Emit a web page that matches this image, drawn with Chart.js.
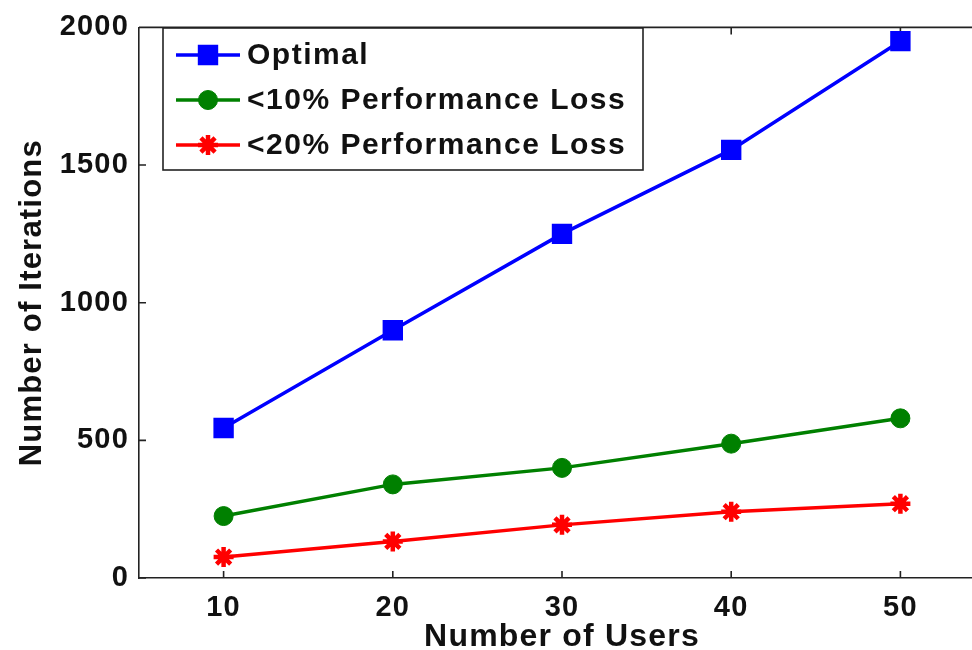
<!DOCTYPE html>
<html>
<head>
<meta charset="utf-8">
<script src="https://cdn.jsdelivr.net/npm/chart.js@4.4.1/dist/chart.umd.min.js"></script>
<style>
  html, body { margin: 0; padding: 0; background: #fff; }
  #wrap { width: 972px; height: 650px; overflow: hidden; position: relative; }
  canvas { display: block; }
</style>
</head>
<body>
<div id="wrap"><canvas id="chart" width="1000" height="656"></canvas></div>
<script>
// values
const users = [10, 20, 30, 40, 50];
const optimal = [545, 900, 1250, 1555, 1950];
const loss10 = [225, 340, 400, 488, 580];
const loss20 = [76, 133, 193, 241, 270];
const xTicks = [10, 20, 30, 40, 50];
const yTicks = [0, 500, 1000, 1500, 2000];

const FONT = "'Liberation Sans', Arial, sans-serif";

function pts(ys) {
    return users.map((u, i) => ({ x: u, y: ys[i] }));
}

// box around the plot plus the inward tick marks, matlab style
const framePlugin = {
    id: 'frame',
    beforeDraw(chart) {
        chart.ctx.letterSpacing = '1.2px';
    },
    beforeDatasetsDraw(chart) {
        const { ctx, chartArea: a, scales } = chart;
        ctx.save();
        ctx.letterSpacing = '0px';
        ctx.strokeStyle = '#222';
        ctx.lineWidth = 1.6;
        ctx.beginPath();
        ctx.moveTo(a.left, a.top);
        ctx.lineTo(a.right, a.top);
        ctx.lineTo(a.right, a.bottom);
        const len = 7;
        xTicks.forEach(v => {
            const x = scales.x.getPixelForValue(v);
            ctx.moveTo(x, a.bottom);
            ctx.lineTo(x, a.bottom - len);
            ctx.moveTo(x, a.top);
            ctx.lineTo(x, a.top + len);
        });
        yTicks.forEach(v => {
            const y = scales.y.getPixelForValue(v);
            ctx.moveTo(a.left, y);
            ctx.lineTo(a.left + len, y);
            ctx.moveTo(a.right, y);
            ctx.lineTo(a.right - len, y);
        });
        ctx.stroke();
        ctx.restore();
    },
    afterDraw(chart) {
        // legend box in the top left corner
        const { ctx } = chart;
        const bx = 163, by = 28, bw = 480, bh = 142;
        ctx.save();
        ctx.fillStyle = '#fff';
        ctx.fillRect(bx, by, bw, bh);
        ctx.strokeStyle = '#222';
        ctx.lineWidth = 1.6;
        ctx.strokeRect(bx, by, bw, bh);
        ctx.font = `bold 30px ${FONT}`;
        ctx.letterSpacing = '1.5px';
        ctx.textBaseline = 'middle';
        ctx.textAlign = 'left';
        chart.data.datasets.forEach((ds, i) => {
            const y = by + 27 + i * 45;
            ctx.strokeStyle = ds.borderColor;
            ctx.lineWidth = ds.borderWidth;
            ctx.beginPath();
            ctx.moveTo(176, y);
            ctx.lineTo(240, y);
            ctx.stroke();
            ctx.fillStyle = ds.backgroundColor;
            ctx.lineWidth = ds.pointBorderWidth;
            Chart.helpers.drawPoint(ctx, {
                pointStyle: ds.pointStyle,
                radius: ds.pointRadius,
                borderWidth: ds.pointBorderWidth
            }, 208, y);
            ctx.fillStyle = '#111';
            ctx.fillText(ds.label, 247, y + 1);
        });
        ctx.restore();
    }
};

new Chart(document.getElementById('chart'), {
    type: 'line',
    data: {
        datasets: [{
            label: 'Optimal',
            data: pts(optimal),
            borderColor: '#0000ff',
            backgroundColor: '#0000ff',
            borderWidth: 3.5,
            pointStyle: 'rect',
            pointRadius: 13,
            pointBorderWidth: 2
        }, {
            label: '<10% Performance Loss',
            data: pts(loss10),
            borderColor: '#008000',
            backgroundColor: '#008000',
            borderWidth: 3.5,
            pointStyle: 'circle',
            pointRadius: 9.5,
            pointBorderWidth: 1
        }, {
            label: '<20% Performance Loss',
            data: pts(loss20),
            borderColor: '#ff0000',
            backgroundColor: '#ff0000',
            borderWidth: 3.5,
            pointStyle: 'star',
            pointRadius: 10,
            pointBorderWidth: 4.5
        }]
    },
    options: {
        responsive: false,
        animation: false,
        layout: { padding: { top: 22, right: 14, left: 0, bottom: 0 } },
        plugins: {
            legend: { display: false },
            tooltip: { enabled: false }
        },
        elements: { line: { tension: 0 } },
        scales: {
            x: {
                type: 'linear',
                min: 5,
                max: 55,
                afterBuildTicks(scale) {
                    scale.ticks = xTicks.map(v => ({ value: v }));
                },
                afterFit(scale) { scale.height = 78; },
                grid: { display: false, drawTicks: false },
                border: { display: true, color: '#222', width: 1.6 },
                ticks: {
                    color: '#111',
                    padding: 13,
                    callback: v => String(v),
                    font: { family: FONT, size: 29, weight: 'bold' }
                },
                title: {
                    display: true,
                    text: 'Number of Users',
                    color: '#111',
                    padding: { top: 0, bottom: 0 },
                    font: { family: FONT, size: 32, weight: 'bold' }
                }
            },
            y: {
                min: 0,
                max: 2000,
                afterBuildTicks(scale) {
                    scale.ticks = yTicks.map(v => ({ value: v }));
                },
                afterFit(scale) { scale.width = 139; },
                grid: { display: false, drawTicks: false },
                border: { display: true, color: '#222', width: 1.6 },
                ticks: {
                    color: '#111',
                    padding: 10,
                    callback: v => String(v),
                    font: { family: FONT, size: 29, weight: 'bold' }
                },
                title: {
                    display: true,
                    text: 'Number of Iterations',
                    color: '#111',
                    padding: { top: 14, bottom: 0 },
                    font: { family: FONT, size: 31, weight: 'bold' }
                }
            }
        }
    },
    plugins: [framePlugin]
});
</script>
</body>
</html>
